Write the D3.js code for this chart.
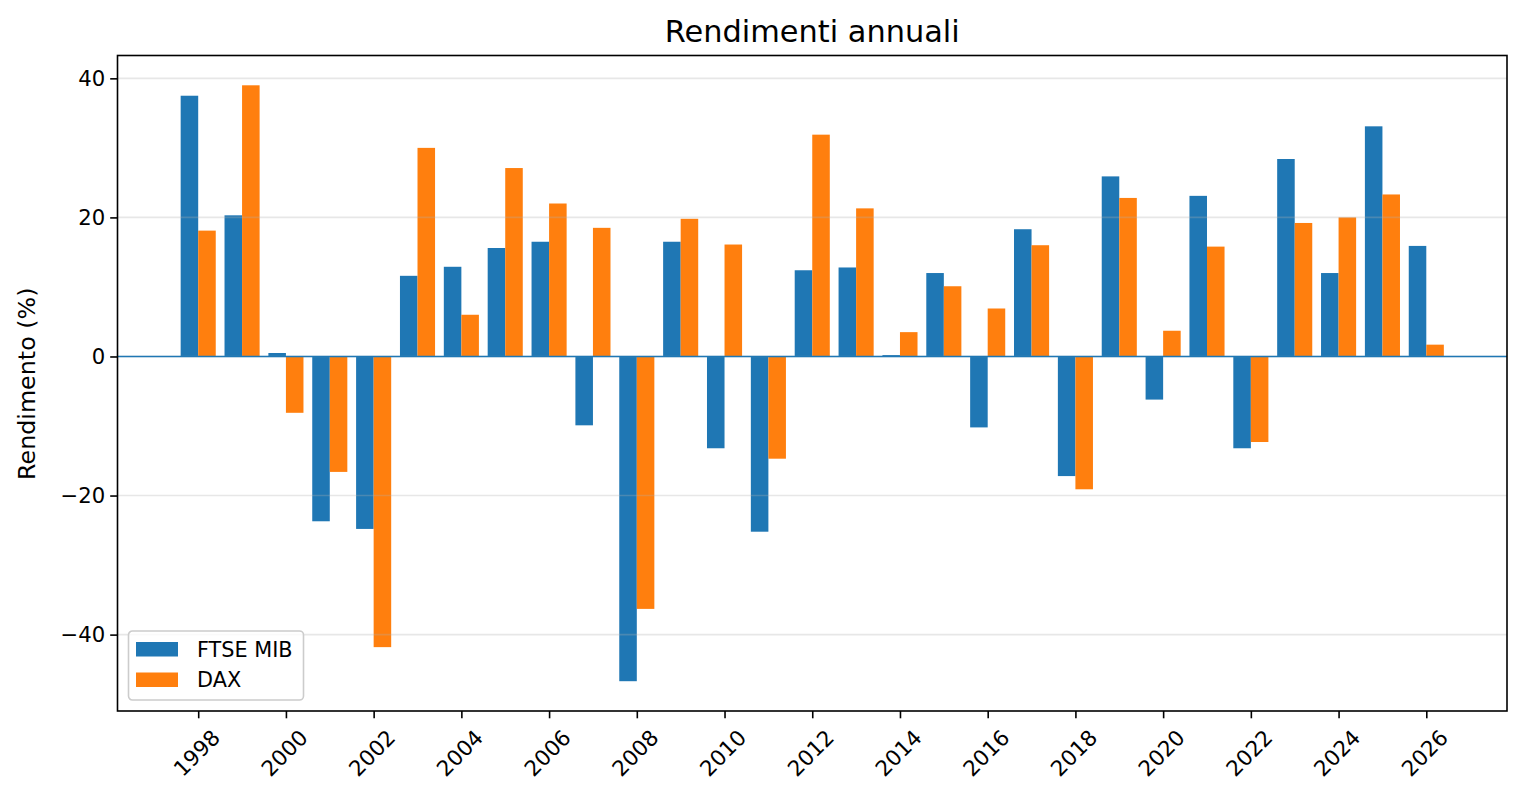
<!DOCTYPE html>
<html>
<head>
<meta charset="utf-8">
<script src="https://cdn.jsdelivr.net/npm/d3@7"></script>
<style>
  html, body { margin: 0; padding: 0; background: #fff; }
  svg { display: block; font-family: "DejaVu Sans", sans-serif; }
</style>
</head>
<body>
<svg id="chart" width="1530" height="810"></svg>
<script>
const years = [1998,1999,2000,2001,2002,2003,2004,2005,2006,2007,2008,2009,2010,2011,2012,2013,2014,2015,2016,2017,2018,2019,2020,2021,2022,2023,2024,2025,2026];
const ftseMib = [37.5,20.3,0.5,-23.7,-24.8,11.6,12.9,15.6,16.5,-9.9,-46.7,16.5,-13.2,-25.2,12.4,12.8,0.2,12.0,-10.2,18.3,-17.2,25.9,-6.2,23.1,-13.2,28.4,12.0,33.1,15.9];
const dax = [18.1,39.0,-8.1,-16.6,-41.8,30.0,6.0,27.1,22.0,18.5,-36.3,19.8,16.1,-14.7,31.9,21.3,3.5,10.1,6.9,16.0,-19.1,22.8,3.7,15.8,-12.3,19.2,20.0,23.3,1.7];
const seriesNames = ["FTSE MIB", "DAX"];
const seriesColors = ["#1f77b4", "#ff7f0e"];
const xTicks = [1998,2000,2002,2004,2006,2008,2010,2012,2014,2016,2018,2020,2022,2024,2026];
const yTicks = [-40,-20,0,20,40];
const titleText = "Rendimenti annuali";
const yLabelText = "Rendimento (%)";

const W = 1530, H = 810;
const m = {left: 117.5, right: 1507, top: 55.5, bottom: 711};
const barW = 0.4;

const svg = d3.select("#chart");

// x domain with 5% margins like matplotlib
const x0 = d3.min(years) - barW, x1 = d3.max(years) + barW;
const xp = (x1 - x0) * 0.05;
const x = d3.scaleLinear().domain([x0 - xp, x1 + xp]).range([m.left, m.right]);

const allVals = ftseMib.concat(dax);
const y0 = Math.min(0, d3.min(allVals)), y1 = Math.max(0, d3.max(allVals));
const yp = (y1 - y0) * 0.05;
const y = d3.scaleLinear().domain([y0 - yp, y1 + yp]).range([m.bottom, m.top]);

const plot = svg.append("g");
plot.append("rect").attr("x", m.left).attr("y", m.top)
  .attr("width", m.right - m.left).attr("height", m.bottom - m.top).attr("fill", "#fff");

// bars
const series = [ftseMib, dax];
series.forEach((vals, si) => {
  plot.append("g").selectAll("rect").data(years.map((yr, i) => ({yr, v: vals[i]})))
    .join("rect")
    .attr("x", d => x(d.yr + (si === 0 ? -barW : 0)))
    .attr("width", d => x(d.yr + barW) - x(d.yr))
    .attr("y", d => y(Math.max(0, d.v)))
    .attr("height", d => Math.abs(y(d.v) - y(0)))
    .attr("fill", seriesColors[si]);
});

// grid lines on top
plot.append("g").selectAll("line").data(yTicks).join("line")
  .attr("x1", m.left).attr("x2", m.right)
  .attr("y1", d => y(d)).attr("y2", d => y(d))
  .attr("stroke", "#b0b0b0").attr("stroke-opacity", 0.3).attr("stroke-width", 1.6);

// zero line
plot.append("line").attr("x1", m.left).attr("x2", m.right)
  .attr("y1", y(0)).attr("y2", y(0))
  .attr("stroke", seriesColors[0]).attr("stroke-width", 1.4);

// frame
svg.append("rect").attr("x", m.left).attr("y", m.top)
  .attr("width", m.right - m.left).attr("height", m.bottom - m.top)
  .attr("fill", "none").attr("stroke", "#000").attr("stroke-width", 1.6);

// y axis
const yAxis = d3.axisLeft(y).tickValues(yTicks).tickSizeOuter(0).tickSizeInner(7.3).tickPadding(5)
  .tickFormat(d => d < 0 ? "\u2212" + Math.abs(d) : String(d));
const gy = svg.append("g").attr("transform", `translate(${m.left},0)`).call(yAxis);
gy.select(".domain").remove();
gy.selectAll(".tick line").attr("stroke", "#000").attr("stroke-width", 1.6);
gy.selectAll(".tick text").attr("font-size", 21.2).attr("fill", "#000")
  .attr("font-family", "DejaVu Sans");

// x axis
const xAxis = d3.axisBottom(x).tickValues(xTicks).tickSizeOuter(0).tickSizeInner(7.3).tickFormat(d => String(d));
const gx = svg.append("g").attr("transform", `translate(0,${m.bottom})`).call(xAxis);
gx.select(".domain").remove();
gx.selectAll(".tick line").attr("stroke", "#000").attr("stroke-width", 1.6);
gx.selectAll(".tick text")
  .attr("font-size", 21.5).attr("fill", "#000").attr("font-family", "DejaVu Sans")
  .attr("y", 0).attr("dy", null)
  .attr("text-anchor", "middle").attr("dominant-baseline", "central")
  .attr("transform", "translate(-2,42) rotate(-45)");

// title
svg.append("text").attr("x", (m.left + m.right) / 2).attr("y", 42)
  .attr("text-anchor", "middle").attr("font-size", 30.4).attr("fill", "#000")
  .text(titleText);

// y label
svg.append("text").attr("transform", `translate(35,${(m.top + m.bottom) / 2 + 0.5}) rotate(-90)`)
  .attr("text-anchor", "middle").attr("font-size", 23.8).attr("fill", "#000")
  .text(yLabelText);

// legend
const lg = svg.append("g").attr("transform", "translate(128.5,631)");
lg.append("rect").attr("width", 175).attr("height", 69).attr("rx", 4).attr("ry", 4)
  .attr("fill", "#fff").attr("fill-opacity", 0.8)
  .attr("stroke", "#cccccc").attr("stroke-width", 1.6);
seriesNames.forEach((name, i) => {
  const gy0 = 11 + i * 30.5;
  lg.append("rect").attr("x", 7.5).attr("y", gy0).attr("width", 42).attr("height", 14.5)
    .attr("fill", seriesColors[i]);
  lg.append("text").attr("x", 68.5).attr("y", gy0 + 7.5).attr("dominant-baseline", "central")
    .attr("font-size", 20.8).attr("fill", "#000").text(name);
});
</script>
</body>
</html>
